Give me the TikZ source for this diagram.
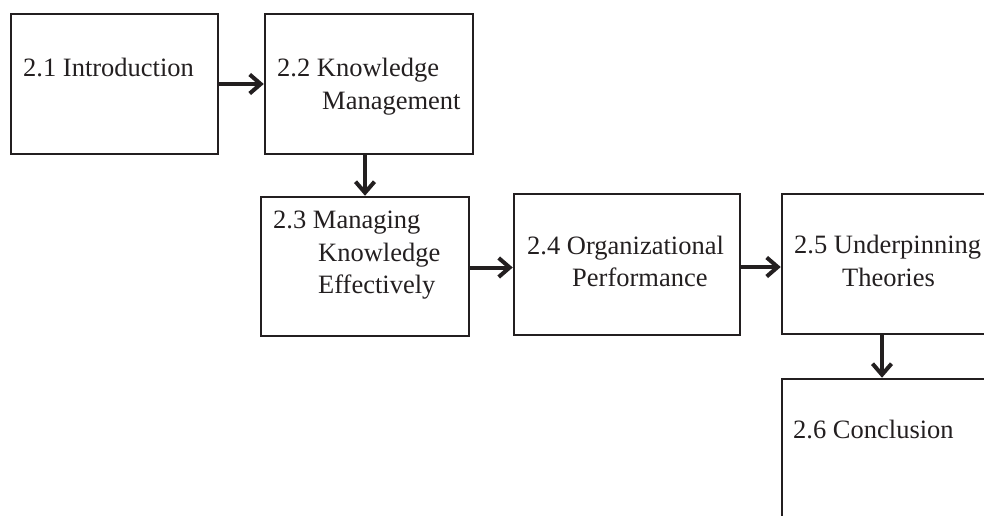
\documentclass[tikz,border=0pt]{standalone}
\usepackage{fontspec}
\setmainfont{Liberation Serif}
\usetikzlibrary{arrows.meta}

\definecolor{ink}{RGB}{35,31,32}

\tikzset{
    box/.style={draw=ink, line width=2.5pt, inner sep=0pt, rectangle},
    txt/.style={anchor=base west, inner sep=0pt, text=ink,
        font=\fontsize{26.5}{31}\selectfont},
    flow/.style={draw=ink, line width=4pt,
        -{Straight Barb[length=11pt,width=19pt,line width=4pt]}}
}

\begin{document}
\begin{tikzpicture}[x=1pt, y=-1pt]
        % Canvas
        \useasboundingbox (0,0) rectangle (984,516);
        \clip (0,0) rectangle (984,516);

        % Section boxes: name / centre x / centre y / width / height
        \foreach \name/\cx/\cy/\w/\h in {
            intro/114.5/84/207/140,
            km/369/84/208/140,
            mke/365/266.5/208/139,
            op/627/264.5/226/141,
            ut/884/264/204/140,
            concl/884/449.5/204/141} {
            \node[box, minimum width=\w pt, minimum height=\h pt] (\name) at (\cx,\cy) {};
        }

        % Section titles, one line each
        \node[txt] (t1) at (23,77) {2.1 Introduction};
        \node[txt] (t2a) at (277,77) {2.2 Knowledge};
        \node[txt] (t2b) at (322,110) {Management};
        \node[txt] (t3a) at (273,228) {2.3 Managing};
        \node[txt] (t3b) at (318,261) {Knowledge};
        \node[txt] (t3c) at (318,293) {Effectively};
        \node[txt] (t4a) at (527,254) {2.4 Organizational};
        \node[txt] (t4b) at (572,286) {Performance};
        \node[txt] (t5a) at (794,253) {2.5 Underpinning};
        \node[txt] (t5b) at (842,286) {Theories};
        \node[txt] (t6) at (793,438) {2.6 Conclusion};

        % Flow between sections
        \draw[flow] (intro.east) -- (km.west);
        \draw[flow] (km.south -| mke.north) -- (mke.north);
        \draw[flow] ([yshift=-1pt]mke.east) -- ([yshift=-1pt]mke.east -| op.west);
        \draw[flow] ([yshift=-2.5pt]op.east) -- ([yshift=-2.5pt]op.east -| ut.west);
        \draw[flow] ([xshift=-2pt]ut.south) -- ([xshift=-2pt]concl.north);
\end{tikzpicture}
\end{document}
